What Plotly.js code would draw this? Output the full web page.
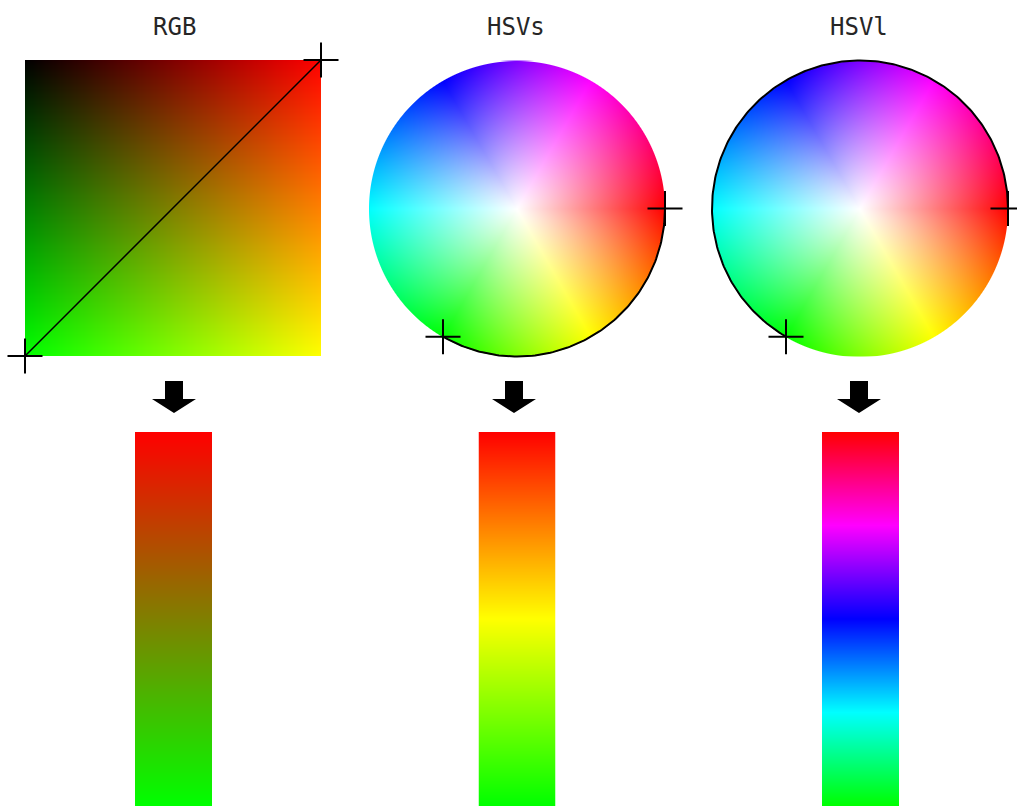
<!DOCTYPE html>
<html><head><meta charset="utf-8">
<script src="https://cdn.plot.ly/plotly-3.0.1.min.js"></script>
<style>html,body{margin:0;padding:0;background:#fff}#chart{width:1017px;height:806px}</style>
</head><body><div id="chart"></div>
<script>
// ---- data ----
const panelTitles = ['RGB', 'HSVs', 'HSVl'];
const startRGB = [255, 0, 0];        // red   (R=1, G=0)
const endRGB = [0, 255, 0];          // green (R=0, G=1)
const rgbPathR = [0, 1];             // diagonal path in the R-G square (R component)
const rgbPathG = [1, 0];             // diagonal path in the R-G square (G component)
const hsvsHues = [0, 120];           // short hue path: red -> yellow -> green
const hsvlHues = [360, 120];         // long hue path: red -> magenta -> blue -> cyan -> green
const pathSat = [1, 1];              // saturation at both path ends
const pathVal = [1, 1];              // value at both path ends

// ---- helpers ----
const W = 1017, H = 806;
const xd = (a, b) => [a / W, b / W];
const yd = (top, bottom) => [1 - bottom / H, 1 - top / H];

function hsv2rgb(h, s, v) {
  h = ((h % 360) + 360) % 360;
  const c = v * s, hp = h / 60, x = c * (1 - Math.abs(hp % 2 - 1));
  let r = 0, g = 0, b = 0;
  if (hp < 1) { r = c; g = x; }
  else if (hp < 2) { r = x; g = c; }
  else if (hp < 3) { g = c; b = x; }
  else if (hp < 4) { g = x; b = c; }
  else if (hp < 5) { r = x; b = c; }
  else { r = c; b = x; }
  const m = v - c;
  return [(r + m) * 255, (g + m) * 255, (b + m) * 255];
}

// RGB square image: x = R, y = G
function rgbSquare(N) {
  const z = [];
  for (let j = 0; j < N; j++) {
    const row = [];
    const g = (j + 0.5) / N * 255;
    for (let i = 0; i < N; i++) row.push([(i + 0.5) / N * 255, g, 0]);
    z.push(row);
  }
  return z;
}
// HSV wheel image: angle = hue, radius = saturation, value = 1
function hsvWheel(N, rpx) {
  const z = [];
  for (let j = 0; j < N; j++) {
    const row = [];
    const y = -1 + (j + 0.5) * 2 / N;
    for (let i = 0; i < N; i++) {
      const x = -1 + (i + 0.5) * 2 / N;
      const s = Math.hypot(x, y);
      const h = Math.atan2(y, x) * 180 / Math.PI;
      const c = hsv2rgb(h, Math.min(s, 1), 1);
      const a = Math.max(0, Math.min(1, (1 - s) * rpx + 0.5));
      row.push([c[0], c[1], c[2], a]);
    }
    z.push(row);
  }
  return z;
}
function barImage(N, colorAt) {
  const z = [];
  for (let j = 0; j < N; j++) z.push([colorAt((j + 0.5) / N)]);
  return z;
}
const lerp = (a, b, t) => a + (b - a) * t;
const rgbAt = t => [0, 1, 2].map(k => lerp(startRGB[k], endRGB[k], t));
const hsvAt = hues => t => hsv2rgb(lerp(hues[0], hues[1], t), lerp(pathSat[0], pathSat[1], t), lerp(pathVal[0], pathVal[1], t));

function arc(hues) {
  const xs = [], ys = [];
  const n = Math.ceil(Math.abs(hues[1] - hues[0]));
  for (let k = 0; k <= n; k++) {
    const h = lerp(hues[0], hues[1], k / n) * Math.PI / 180;
    xs.push(Math.cos(h)); ys.push(Math.sin(h));
  }
  return { xs, ys };
}
const hueXY = h => [Math.cos(h * Math.PI / 180), Math.sin(h * Math.PI / 180)];

// ---- traces ----
const SQ = 296, R = 148, PAD = 1.03, BARN = 374;
const traces = [];
const crossMarker = { symbol: 'cross-thin', size: 25, line: { color: '#000', width: 2 }, color: '#000' };

traces.push({ type: 'image', z: rgbSquare(SQ), x0: 0.5 / SQ, dx: 1 / SQ, y0: 0.5 / SQ, dy: 1 / SQ,
  xaxis: 'x', yaxis: 'y', hoverinfo: 'skip' });
traces.push({ type: 'scatter', mode: 'lines+markers', x: rgbPathR, y: rgbPathG, xaxis: 'x', yaxis: 'y',
  line: { color: '#000', width: 1.5 }, marker: crossMarker, cliponaxis: false, hoverinfo: 'skip' });

[[hsvsHues, 'x2', 'y2'], [hsvlHues, 'x3', 'y3']].forEach(([hues, xa, ya]) => {
  traces.push({ type: 'image', z: hsvWheel(SQ, R), colormodel: 'rgba',
    x0: -1 + 1 / SQ, dx: 2 / SQ, y0: -1 + 1 / SQ, dy: 2 / SQ, xaxis: xa, yaxis: ya, hoverinfo: 'skip' });
  const a = arc(hues);
  traces.push({ type: 'scatter', mode: 'lines', x: a.xs, y: a.ys, xaxis: xa, yaxis: ya,
    line: { color: '#000', width: 2 }, hoverinfo: 'skip' });
  const p0 = hueXY(hues[0]), p1 = hueXY(hues[1]);
  traces.push({ type: 'scatter', mode: 'markers', x: [p0[0], p1[0]], y: [p0[1], p1[1]], xaxis: xa, yaxis: ya,
    marker: crossMarker, cliponaxis: false, hoverinfo: 'skip' });
});

[[rgbAt, 'x4', 'y4'], [hsvAt(hsvsHues), 'x5', 'y5'], [hsvAt(hsvlHues), 'x6', 'y6']].forEach(([f, xa, ya]) => {
  traces.push({ type: 'image', z: barImage(BARN, f), x0: 0.5, dx: 1, y0: 0.5 / BARN, dy: 1 / BARN,
    xaxis: xa, yaxis: ya, hoverinfo: 'skip' });
});

// ---- layout ----
const hid = { visible: false, showgrid: false, zeroline: false, fixedrange: true };
const wheelX = cx => xd(cx - R * PAD, cx + R * PAD);
const wheelY = cy => yd(cy - R * PAD, cy + R * PAD);
const layout = {
  width: W, height: H, margin: { l: 0, r: 0, t: 0, b: 0 },
  paper_bgcolor: '#fff', plot_bgcolor: 'rgba(0,0,0,0)', showlegend: false,
  xaxis: { ...hid, domain: xd(25, 321), range: [0, 1], anchor: 'y' },
  yaxis: { ...hid, domain: yd(60, 356), range: [1, 0], anchor: 'x', scaleanchor: false },
  xaxis2: { ...hid, domain: wheelX(517), range: [-PAD, PAD], anchor: 'y2' },
  yaxis2: { ...hid, domain: wheelY(208.5), range: [PAD, -PAD], anchor: 'x2', scaleanchor: false },
  xaxis3: { ...hid, domain: wheelX(860), range: [-PAD, PAD], anchor: 'y3' },
  yaxis3: { ...hid, domain: wheelY(208.5), range: [PAD, -PAD], anchor: 'x3', scaleanchor: false },
  xaxis4: { ...hid, domain: xd(135, 212), range: [0, 1], anchor: 'y4' },
  yaxis4: { ...hid, domain: yd(432, 806), range: [1, 0], anchor: 'x4', scaleanchor: false },
  xaxis5: { ...hid, domain: xd(478.5, 555.5), range: [0, 1], anchor: 'y5' },
  yaxis5: { ...hid, domain: yd(432, 806), range: [1, 0], anchor: 'x5', scaleanchor: false },
  xaxis6: { ...hid, domain: xd(822, 899), range: [0, 1], anchor: 'y6' },
  yaxis6: { ...hid, domain: yd(432, 806), range: [1, 0], anchor: 'x6', scaleanchor: false },
  annotations: [[174, panelTitles[0]], [516, panelTitles[1]], [859, panelTitles[2]]].map(([x, t]) => ({
    xref: 'paper', yref: 'paper', x: x / W, y: 1 - 26.5 / H, text: t, showarrow: false,
    xanchor: 'center', yanchor: 'middle',
    font: { family: 'DejaVu Sans Mono, monospace', size: 24, color: '#262626' }
  })),
  shapes: [174, 514, 859].map(tx => {
    const P = (x, y) => (x / W).toFixed(5) + ',' + (1 - y / H).toFixed(5);
    const d = 'M' + P(tx - 9, 381) + 'L' + P(tx + 9, 381) + 'L' + P(tx + 9, 399) + 'L' + P(tx + 22, 399) +
      'L' + P(tx, 413) + 'L' + P(tx - 22, 399) + 'L' + P(tx - 9, 399) + 'Z';
    return { type: 'path', xref: 'paper', yref: 'paper', path: d, fillcolor: '#000', line: { width: 0 } };
  })
};

Plotly.newPlot('chart', traces, layout, { staticPlot: true, displayModeBar: false });
</script>
</body></html>
